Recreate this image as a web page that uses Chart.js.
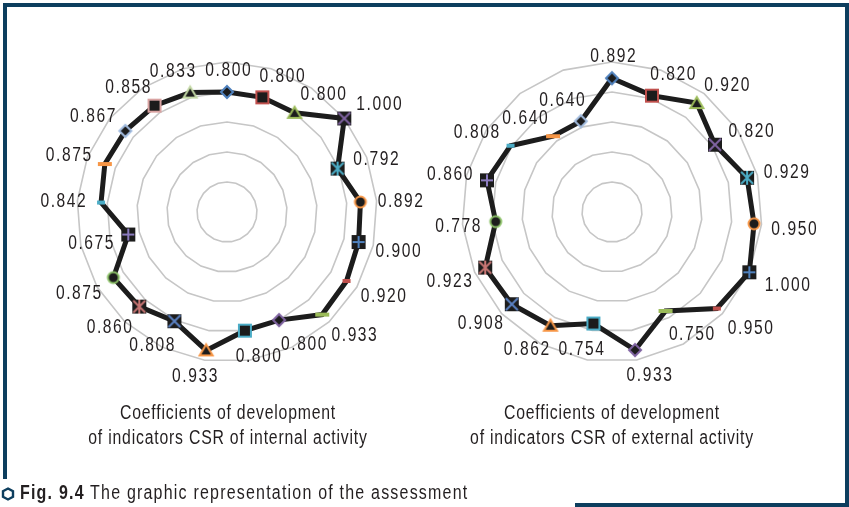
<!DOCTYPE html>
<html>
<head>
<meta charset="utf-8">
<script src="https://cdn.jsdelivr.net/npm/chart.js@4.4.1/dist/chart.umd.min.js"></script>
<style>
  html, body { margin: 0; padding: 0; background: #fff; }
  #wrap { position: relative; width: 849px; height: 507px; overflow: hidden; background: #fff;
          font-family: "Liberation Sans", Arial, sans-serif; color: #231f20; }
  canvas.chart { position: absolute; left: 0; top: 0; }
  .frame { position: absolute; background: #0d3e5e; }
  .title { position: absolute; width: 400px; text-align: center; font-size: 20px; line-height: 25px; letter-spacing: 1px;
           transform: scaleX(0.79); transform-origin: 200px 0; white-space: nowrap; }
  #caption { position: absolute; left: 20px; top: 481px; font-size: 20px; white-space: nowrap; letter-spacing: 1.5px;
             transform: scaleX(0.8); transform-origin: 0 0; }
  #caption b { font-weight: bold; }
  #hex { position: absolute; left: 1px; top: 487px; }
</style>
</head>
<body>
<div id="wrap">
  <div class="frame" style="left:3px;top:3px;width:4px;height:476px;"></div>
  <div class="frame" style="left:3px;top:3px;width:846px;height:4px;"></div>
  <div class="frame" style="left:845px;top:3px;width:4px;height:504px;"></div>
  <div class="frame" style="left:575px;top:503px;width:274px;height:4px;"></div>
  <canvas id="c1" class="chart" width="849" height="507"></canvas>
  <canvas id="c2" class="chart" width="849" height="507"></canvas>
  <div class="title" style="left:28px;top:400px;">Coefficients of development<br>of indicators CSR of internal activity</div>
  <div class="title" style="left:412px;top:400px;">Coefficients of development<br>of indicators CSR of external activity</div>
  <svg id="hex" width="14" height="14" viewBox="0 0 14 14"><polygon points="7,1.5 12,4.2 12,9.8 7,12.5 2,9.8 2,4.2" fill="none" stroke="#0d3e5e" stroke-width="2.4"/></svg>
  <div id="caption"><b>Fig. 9.4</b> The graphic representation of the assessment</div>
</div>
<script>
// ---- data ----
const internalCategories = ['1','2','3','4','5','6','7','8','9','10','11','12','13','14','15','16','17','18','19','20','21'];
const internalValues = [0.800, 0.800, 0.800, 1.000, 0.792, 0.892, 0.900, 0.920, 0.933, 0.800, 0.800, 0.933, 0.808, 0.860, 0.875, 0.675, 0.842, 0.875, 0.867, 0.858, 0.833];
const externalCategories = ['1','2','3','4','5','6','7','8','9','10','11','12','13','14','15','16','17','18','19'];
const externalValues = [0.892, 0.820, 0.920, 0.820, 0.929, 0.950, 1.000, 0.950, 0.750, 0.933, 0.754, 0.862, 0.908, 0.923, 0.778, 0.860, 0.808, 0.640, 0.640];
const radialTicks = [0, 0.2, 0.4, 0.6, 0.8, 1.0];

// ---- styles ----
const markerShapes = ['diamond','square','triangle','x','star','circle','plus','dashShort','dashLong'];
const markerColors = ['#4f81bd','#c0504d','#9bbb59','#8064a2','#4bacc6','#f79646',
                      '#4f81bd','#c0504d','#9bbb59','#8064a2','#4bacc6','#f79646',
                      '#5b82c4','#c87674','#8cc168','#8c7cc0','#4bacc6','#f79646',
                      '#a3bde0','#d9a3a2','#c3d8a5'];

function makeMarker(shape, color) {
  const s = 18;
  const c = document.createElement('canvas');
  c.width = s; c.height = s;
  const g = c.getContext('2d');
  g.translate(s / 2, s / 2);
  g.lineWidth = 2;
  g.strokeStyle = color;
  g.fillStyle = '#1c1c1c';
  g.lineJoin = 'miter';
  switch (shape) {
    case 'diamond':
      g.beginPath(); g.moveTo(0, -6); g.lineTo(6, 0); g.lineTo(0, 6); g.lineTo(-6, 0); g.closePath();
      g.fill(); g.stroke(); break;
    case 'square':
      g.fillRect(-6, -6, 12, 12); g.strokeRect(-6, -6, 12, 12); break;
    case 'triangle':
      g.beginPath(); g.moveTo(0, -6); g.lineTo(6.5, 5); g.lineTo(-6.5, 5); g.closePath();
      g.fill(); g.stroke(); break;
    case 'x':
      g.fillRect(-7, -7, 14, 14);
      g.beginPath(); g.moveTo(-6, -6); g.lineTo(6, 6); g.moveTo(6, -6); g.lineTo(-6, 6); g.stroke(); break;
    case 'star':
      g.fillRect(-7, -7, 14, 14);
      g.beginPath(); g.moveTo(-6, -6); g.lineTo(6, 6); g.moveTo(6, -6); g.lineTo(-6, 6);
      g.moveTo(0, -7); g.lineTo(0, 7); g.stroke(); break;
    case 'circle':
      g.beginPath(); g.arc(0, 0, 5.5, 0, Math.PI * 2); g.fill(); g.stroke(); break;
    case 'plus':
      g.fillRect(-7, -7, 14, 14);
      g.beginPath(); g.moveTo(-6, 0); g.lineTo(6, 0); g.moveTo(0, -6); g.lineTo(0, 6); g.stroke(); break;
    case 'dashShort':
      g.fillStyle = color; g.fillRect(-4, -2, 8, 4); break;
    case 'dashLong':
      g.fillStyle = color; g.fillRect(-7, -2, 14, 4); break;
  }
  return c;
}

function markersFor(n) {
  const out = [];
  for (let i = 0; i < n; i++) out.push(makeMarker(markerShapes[i % markerShapes.length], markerColors[i % markerColors.length]));
  return out;
}

const valueLabels = {
  id: 'valueLabels',
  afterDatasetsDraw(chart) {
    const ctx = chart.ctx;
    const scale = chart.scales.r;
    const meta = chart.getDatasetMeta(0);
    const data = chart.data.datasets[0].data;
    meta.data.forEach((pt, i) => {
      const a = scale.getIndexAngle(i);
      const s = Math.sin(a), c = Math.cos(a);
      const dx = 39 * Math.sign(s) * Math.pow(Math.abs(s), 0.6);
      const dy = -24 * Math.sign(c) * Math.pow(Math.abs(c), 0.8) + 2;
      ctx.save();
      ctx.translate(pt.x + dx + 1, pt.y + dy);
      ctx.scale(0.78, 1);
      ctx.font = '20px "Liberation Sans", Arial, sans-serif';
      ctx.letterSpacing = '2px';
      ctx.fillStyle = '#231f20';
      ctx.textAlign = 'center';
      ctx.textBaseline = 'middle';
      ctx.fillText(data[i].toFixed(3), 1, 0);
      ctx.restore();
    });
  }
};

function makeRadar(id, categories, values, cx) {
  const R = 150, cy = 212, W = 849, H = 507;
  return new Chart(document.getElementById(id), {
    type: 'radar',
    data: {
      labels: categories,
      datasets: [{
        data: values,
        borderColor: '#1c1c1c',
        borderWidth: 5,
        fill: false,
        tension: 0,
        pointStyle: markersFor(values.length),
        pointRadius: 6,
        clip: false
      }]
    },
    options: {
      responsive: false,
      animation: false,
      events: [],
      layout: { padding: { left: cx - R, right: W - cx - R, top: cy - R, bottom: H - cy - R } },
      plugins: { legend: { display: false }, tooltip: { enabled: false } },
      scales: {
        r: {
          min: radialTicks[0],
          max: radialTicks[radialTicks.length - 1],
          ticks: { display: false, stepSize: radialTicks[1] - radialTicks[0] },
          grid: { color: '#c6c6c6', lineWidth: 1.6 },
          angleLines: { display: false },
          pointLabels: { display: false }
        }
      }
    },
    plugins: [valueLabels]
  });
}

makeRadar('c1', internalCategories, internalValues, 227);
makeRadar('c2', externalCategories, externalValues, 612);
</script>
</body>
</html>
